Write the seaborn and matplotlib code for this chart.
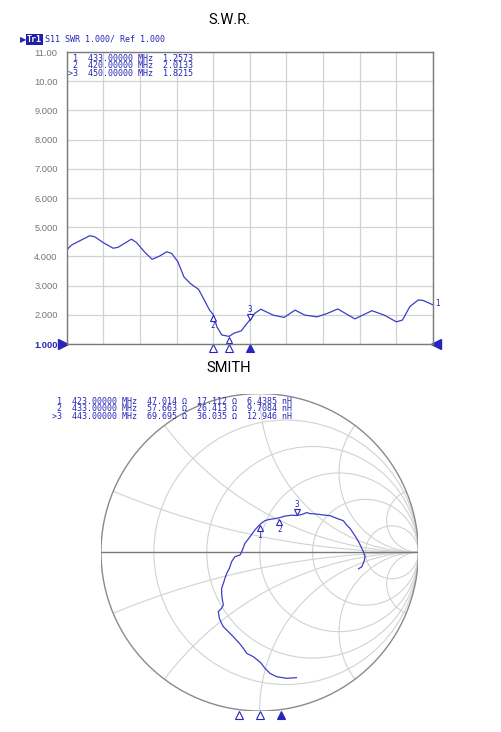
import numpy as np
import pandas as pd
import matplotlib
matplotlib.use("Agg")
import matplotlib.pyplot as plt
import matplotlib.transforms as mtransforms
from matplotlib.patches import Circle
import seaborn as sns

# ---- S11 SWR trace, 300 - 600 MHz ----
swr_freq_mhz = [300, 304, 311, 319, 323, 330, 338, 342, 353, 357,
                364, 370, 376, 382, 386, 391, 396, 401, 408, 412,
                417, 420, 423, 427, 433, 437, 443, 446, 450, 454,
                459, 469, 478, 487, 495, 505, 513, 522, 536, 550,
                560, 570, 575, 581, 588, 592, 600]
swr_values = [4.22, 4.39, 4.54, 4.71, 4.67, 4.47, 4.28, 4.31, 4.59, 4.48,
              4.14, 3.90, 4.01, 4.16, 4.10, 3.82, 3.30, 3.08, 2.87, 2.56,
              2.16, 2.01, 1.59, 1.31, 1.26, 1.37, 1.45, 1.62, 1.82, 2.05,
              2.19, 1.99, 1.91, 2.16, 1.99, 1.93, 2.04, 2.20, 1.86, 2.14,
              1.99, 1.76, 1.82, 2.28, 2.51, 2.49, 2.34]
swr_start, swr_stop = 300, 600

swr_marker_ids = ["1", "2", ">3"]
swr_marker_freq = [433.0, 420.0, 450.0]
swr_marker_val = [1.2573, 2.0133, 1.8215]

ytick_vals = [1, 2, 3, 4, 5, 6, 7, 8, 9, 10, 11]
ytick_labels = ["1.000", "2.000", "3.000", "4.000", "5.000", "6.000",
                "7.000", "8.000", "9.000", "10.00", "11.00"]

# ---- Smith chart trace (reflection coefficient) ----
smith_gamma_re = [0.233, 0.170, 0.107, 0.065, 0.033, 0.006, -0.009, -0.040, -0.082, -0.099,
                  -0.124, -0.166, -0.198, -0.229, -0.240, -0.254, -0.261, -0.240, -0.229, -0.235,
                  -0.240, -0.240, -0.229, -0.219, -0.208, -0.191, -0.177, -0.156, -0.124, -0.109,
                  -0.093, -0.061, -0.030, 0.002, 0.033, 0.065, 0.096, 0.124, 0.159, 0.201,
                  0.233, 0.264, 0.296, 0.317, 0.359, 0.401, 0.443, 0.485, 0.527, 0.548,
                  0.569, 0.590, 0.611, 0.628, 0.643, 0.653, 0.664, 0.657, 0.643, 0.622]
smith_gamma_im = [-0.790, -0.794, -0.784, -0.763, -0.731, -0.695, -0.683, -0.658, -0.637, -0.611,
                  -0.578, -0.532, -0.500, -0.469, -0.448, -0.416, -0.374, -0.353, -0.332, -0.301,
                  -0.259, -0.227, -0.196, -0.164, -0.133, -0.101, -0.059, -0.028, -0.017, 0.014,
                  0.057, 0.098, 0.141, 0.176, 0.200, 0.208, 0.212, 0.218, 0.228, 0.234,
                  0.232, 0.238, 0.250, 0.244, 0.241, 0.235, 0.231, 0.214, 0.199, 0.172,
                  0.151, 0.120, 0.088, 0.057, 0.025, 0.004, -0.028, -0.059, -0.091, -0.105]
smith_start, smith_stop = 358, 508

smith_marker_ids = ["1", "2", ">3"]
smith_marker_freq = [423.0, 433.0, 443.0]
smith_marker_r = [47.014, 57.663, 69.695]
smith_marker_x = [17.112, 26.413, 36.035]
smith_marker_l = [6.4385, 9.7084, 12.946]
z0 = 50.0

r_circles = [0.2, 0.5, 1.0, 2.0, 5.0]
x_arcs = [0.2, 0.5, 1.0, 2.0, 5.0]

# ---- style ----
W, H = 501, 732
trace_color = "#3d3dc4"
mark_color = "#2626b8"
grid_color = "#d2d2d2"

sns.set_style("white")
plt.rcParams["font.family"] = ["DejaVu Sans"]

mono = "DejaVu Sans Mono"
mono_size = 6.0


def fx(x):
    return x / W


def fy(y):
    return 1 - y / H


fig = plt.figure(figsize=(W / 100, H / 100), dpi=100)

# ================= S.W.R. =================
fig.text(fx(229), fy(20.5), "S.W.R.", family="Roboto", fontsize=10.5,
         ha="center", va="center", color="black")

fig.text(fx(19.5), fy(39.5), "\u25B6", fontsize=6, color=mark_color,
         ha="left", va="center")
fig.text(fx(26.5), fy(39.5), "Tr1", family=mono, fontsize=mono_size,
         color="white", ha="left", va="center", fontweight="bold",
         bbox=dict(boxstyle="square,pad=0.12", fc="#1f1fa8", ec="none"))
fig.text(fx(45), fy(39.5), "S11 SWR 1.000/ Ref 1.000", family=mono,
         fontsize=mono_size, color=mark_color, ha="left", va="center")

ax1 = fig.add_axes([fx(66.7), fy(344), 366.3 / W, 292 / H])
df_swr = pd.DataFrame({"freq": swr_freq_mhz, "swr": swr_values})
sns.lineplot(data=df_swr, x="freq", y="swr", ax=ax1, color=trace_color,
             linewidth=0.9)
ax1.set_xlim(swr_start, swr_stop)
ax1.set_ylim(1, 11)
ax1.set_xticks(np.linspace(swr_start, swr_stop, 11))
ax1.set_xticklabels([])
ax1.set_yticks(ytick_vals)
ax1.set_yticklabels(ytick_labels, family="Liberation Sans", fontsize=6.7,
                    color="#767676")
ax1.yaxis.get_ticklabels()[0].set_color(mark_color)
ax1.yaxis.get_ticklabels()[0].set_fontweight("bold")
ax1.tick_params(length=0, pad=6.5)
ax1.set_xlabel("")
ax1.set_ylabel("")
ax1.grid(True, color=grid_color, linewidth=0.9)
for sp in ax1.spines.values():
    sp.set_color("#7a7a7a")
    sp.set_linewidth(1.0)

up_off = mtransforms.offset_copy(ax1.transData, fig=fig, x=0, y=-3.5, units="dots")
up_lbl = mtransforms.offset_copy(ax1.transData, fig=fig, x=0, y=-11, units="dots")
dn_off = mtransforms.offset_copy(ax1.transData, fig=fig, x=0, y=3.5, units="dots")
dn_lbl = mtransforms.offset_copy(ax1.transData, fig=fig, x=0, y=11, units="dots")
bottom_tr = mtransforms.blended_transform_factory(ax1.transData, ax1.transAxes)

for mid, f, v in zip(swr_marker_ids, swr_marker_freq, swr_marker_val):
    active = mid.startswith(">")
    num = mid.lstrip(">")
    if active:
        ax1.plot([f], [v], marker="v", ms=5, mfc="white", mec=mark_color,
                 mew=0.8, transform=dn_off, clip_on=False)
        ax1.text(f, v, num, transform=dn_lbl, fontsize=5.5, family=mono,
                 color=mark_color, ha="center", va="center")
    else:
        ax1.plot([f], [v], marker="^", ms=5, mfc="white", mec=mark_color,
                 mew=0.8, transform=up_off, clip_on=False)
        if v > 1.6:
            ax1.text(f, v, num, transform=up_lbl, fontsize=5.5, family=mono,
                     color=mark_color, ha="center", va="center")
    ax1.plot([f], [-0.014], marker="^", ms=5.5,
             mfc=mark_color if active else "white", mec=mark_color, mew=0.8,
             transform=bottom_tr, clip_on=False)

# trace end label and reference arrows
ax1.text(1.006, (swr_values[-1] - 1) / 10 + 0.005, "1", transform=ax1.transAxes,
         fontsize=5.5, family=mono, color=mark_color, ha="left", va="center")
ax1.plot([-0.009], [0], marker=">", ms=6.5, color=mark_color,
         transform=ax1.transAxes, clip_on=False)
ax1.plot([1.009], [0], marker="<", ms=6.5, color=mark_color,
         transform=ax1.transAxes, clip_on=False)

# marker table (one block of text, tight rows)
swr_rows = [f"{mid:>2}  {f:.5f} MHz  {v:.4f}"
            for mid, f, v in zip(swr_marker_ids, swr_marker_freq, swr_marker_val)]
fig.text(fx(68), fy(54), "\n".join(swr_rows), family=mono, fontsize=mono_size,
         color=mark_color, ha="left", va="top", linespacing=0.78)

# ================= SMITH =================
fig.text(fx(229), fy(368.5), "SMITH", family="Roboto", fontsize=10.5,
         ha="center", va="center", color="black")

ax2 = fig.add_axes([fx(101), fy(552.3 + 158.7), 317.4 / W, 317.4 / H])
ax2.set_xlim(-1, 1)
ax2.set_ylim(-1, 1)
ax2.set_axis_off()

clip = Circle((0, 0), 1, transform=ax2.transData, fc="none", ec="none")
ax2.add_patch(clip)
for r in r_circles:
    c = Circle((r / (r + 1), 0), 1 / (r + 1), fill=False, ec=grid_color, lw=0.8)
    ax2.add_patch(c)
    c.set_clip_path(clip)
for xv in x_arcs:
    for s in (1, -1):
        c = Circle((1, s / xv), 1 / xv, fill=False, ec=grid_color, lw=0.8)
        ax2.add_patch(c)
        c.set_clip_path(clip)
ax2.add_patch(Circle((0, 0), 1, fill=False, ec="#8a8a8a", lw=1.0))
ax2.plot([-1, 1], [0, 0], color="#7a7a7a", lw=1.0)

df_smith = pd.DataFrame({"re": smith_gamma_re, "im": smith_gamma_im})
sns.lineplot(data=df_smith, x="re", y="im", ax=ax2, sort=False,
             estimator=None, color=trace_color, linewidth=0.9)
ax2.set_xlabel("")
ax2.set_ylabel("")

up2 = mtransforms.offset_copy(ax2.transData, fig=fig, x=0, y=-3.5, units="dots")
up2_lbl = mtransforms.offset_copy(ax2.transData, fig=fig, x=0, y=-11, units="dots")
dn2 = mtransforms.offset_copy(ax2.transData, fig=fig, x=0, y=3.5, units="dots")
dn2_lbl = mtransforms.offset_copy(ax2.transData, fig=fig, x=0, y=11, units="dots")
smith_center = (smith_start + smith_stop) / 2
smith_half = (smith_stop - smith_start) / 2

for mid, f, rr, xx in zip(smith_marker_ids, smith_marker_freq,
                          smith_marker_r, smith_marker_x):
    z = complex(rr, xx) / z0
    g = (z - 1) / (z + 1)
    active = mid.startswith(">")
    num = mid.lstrip(">")
    if active:
        ax2.plot([g.real], [g.imag], marker="v", ms=5, mfc="white",
                 mec=mark_color, mew=0.8, transform=dn2, clip_on=False)
        ax2.text(g.real, g.imag, num, transform=dn2_lbl, fontsize=5.5,
                 family=mono, color=mark_color, ha="center", va="center")
    else:
        ax2.plot([g.real], [g.imag], marker="^", ms=5, mfc="white",
                 mec=mark_color, mew=0.8, transform=up2, clip_on=False)
        ax2.text(g.real, g.imag, num, transform=up2_lbl, fontsize=5.5,
                 family=mono, color=mark_color, ha="center", va="center")
    ax2.plot([(f - smith_center) / smith_half], [-1.025], marker="^", ms=5.5,
             mfc=mark_color if active else "white", mec=mark_color, mew=0.8,
             clip_on=False)

smith_rows = [f"{mid:>2}  {f:.5f} MHz  {rr:.3f} \u03A9  {xx:.3f} \u03A9  {ll:>6.5g} nH"
              for mid, f, rr, xx, ll in zip(smith_marker_ids, smith_marker_freq,
                                            smith_marker_r, smith_marker_x,
                                            smith_marker_l)]
fig.text(fx(51.5), fy(397), "\n".join(smith_rows), family=mono,
         fontsize=mono_size, color=mark_color, ha="left", va="top",
         linespacing=0.78)

fig.savefig("out.png", dpi=100, facecolor="white")
